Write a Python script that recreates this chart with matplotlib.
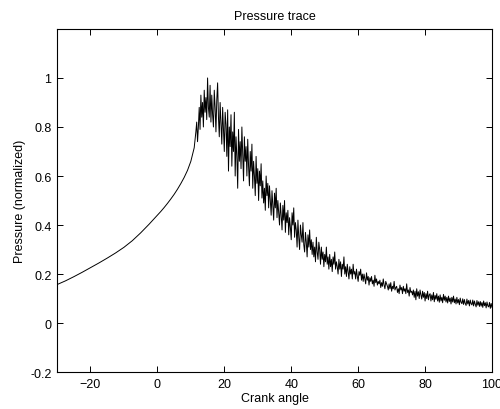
import numpy as np
import matplotlib
matplotlib.use("Agg")
import matplotlib.pyplot as plt

# smooth compression part of the trace
smooth_angle = [-30, -27.5, -25, -22.5, -20, -17.5, -15, -12.5, -10, -7.5, -5, -2.5,
                0, 1, 2, 3, 4, 5, 6, 7, 8, 9, 10, 11]
smooth_p = [0.157, 0.172, 0.189, 0.207, 0.226, 0.245, 0.265, 0.286, 0.309, 0.336, 0.368, 0.403,
            0.44, 0.455, 0.471, 0.488, 0.506, 0.525, 0.546, 0.569, 0.594, 0.623, 0.66, 0.715]

# noisy combustion / expansion part, sampled every 0.25 deg from 11.5 to 100
noisy_first, noisy_last, noisy_step = 11.5, 100.0, 0.25
noisy_p = [
    0.78, 0.82, 0.74, 0.80, 0.88, 0.79, 0.93, 0.84, 0.90, 0.80,
    0.95, 0.86, 0.92, 0.83, 1.00, 0.88, 0.84, 0.97, 0.82, 0.93,
    0.85, 0.80, 0.95, 0.88, 0.78, 0.91, 0.98, 0.84, 0.76, 0.90,
    0.82, 0.73, 0.88, 0.79, 0.70, 0.86, 0.81, 0.68, 0.87, 0.62,
    0.80, 0.72, 0.85, 0.64, 0.78, 0.70, 0.86, 0.60, 0.76, 0.68,
    0.55, 0.79, 0.66, 0.74, 0.63, 0.80, 0.69, 0.58, 0.76, 0.66,
    0.72, 0.60, 0.75, 0.64, 0.56, 0.70, 0.62, 0.73, 0.55, 0.66,
    0.60, 0.52, 0.68, 0.57, 0.63, 0.50, 0.62, 0.56, 0.65, 0.51,
    0.58, 0.49, 0.55, 0.46, 0.60, 0.52, 0.57, 0.47, 0.56, 0.50,
    0.44, 0.54, 0.48, 0.42, 0.53, 0.47, 0.55, 0.43, 0.50, 0.45,
    0.40, 0.49, 0.44, 0.38, 0.48, 0.42, 0.50, 0.37, 0.45, 0.41,
    0.46, 0.36, 0.43, 0.39, 0.34, 0.45, 0.40, 0.47, 0.35, 0.41,
    0.38, 0.31, 0.42, 0.35, 0.30, 0.40, 0.36, 0.33, 0.41, 0.32,
    0.29, 0.37, 0.33, 0.27, 0.36, 0.31, 0.38, 0.30, 0.34, 0.28,
    0.33, 0.27, 0.31, 0.25, 0.35, 0.29, 0.26, 0.33, 0.30, 0.24,
    0.31, 0.26, 0.29, 0.23, 0.28, 0.25, 0.31, 0.24, 0.27, 0.22,
    0.28, 0.23, 0.26, 0.21, 0.27, 0.24, 0.29, 0.22, 0.25, 0.23,
    0.20, 0.26, 0.22, 0.25, 0.19, 0.24, 0.22, 0.27, 0.20, 0.23,
    0.19, 0.24, 0.21, 0.18, 0.23, 0.20, 0.22, 0.18, 0.24, 0.20,
    0.21, 0.18, 0.22, 0.19, 0.17, 0.21, 0.195, 0.22, 0.175, 0.20,
    0.17, 0.20, 0.18, 0.16, 0.205, 0.175, 0.19, 0.155, 0.185, 0.17,
    0.19, 0.16, 0.175, 0.15, 0.195, 0.165, 0.18, 0.155, 0.17, 0.16,
    0.175, 0.145, 0.165, 0.15, 0.18, 0.155, 0.14, 0.17, 0.16, 0.15,
    0.135, 0.16, 0.14, 0.165, 0.13, 0.15, 0.14, 0.17, 0.135, 0.145,
    0.15, 0.125, 0.14, 0.12, 0.155, 0.135, 0.145, 0.12, 0.15, 0.13,
    0.14, 0.12, 0.16, 0.125, 0.135, 0.11, 0.145, 0.125, 0.13, 0.115,
    0.135, 0.105, 0.13, 0.095, 0.14, 0.11, 0.128, 0.10, 0.135, 0.115,
    0.098, 0.13, 0.105, 0.125, 0.09, 0.12, 0.10, 0.13, 0.095, 0.115,
    0.12, 0.09, 0.115, 0.095, 0.125, 0.087, 0.113, 0.097, 0.12, 0.09,
    0.11, 0.085, 0.115, 0.09, 0.105, 0.083, 0.117, 0.093, 0.11, 0.086,
    0.105, 0.082, 0.11, 0.088, 0.102, 0.078, 0.105, 0.086, 0.11, 0.083,
    0.098, 0.078, 0.105, 0.082, 0.096, 0.075, 0.102, 0.085, 0.079, 0.099,
    0.076, 0.096, 0.08, 0.072, 0.098, 0.078, 0.092, 0.07, 0.094, 0.079,
    0.074, 0.094, 0.07, 0.09, 0.077, 0.066, 0.092, 0.073, 0.087, 0.068,
    0.088, 0.069, 0.084, 0.064, 0.09, 0.071, 0.083, 0.062, 0.086, 0.07,
    0.066, 0.084, 0.06, 0.08, 0.064]

noisy_angle = np.arange(noisy_first, noisy_last + noisy_step / 2, noisy_step)
angle = np.concatenate([smooth_angle, noisy_angle])
pressure = np.concatenate([smooth_p, noisy_p])

plt.rcParams['font.family'] = ['Liberation Sans', 'DejaVu Sans']

fig = plt.figure(figsize=(5, 4.1), dpi=100)
ax = fig.add_axes([0.114, 0.09, 0.87, 0.837])
ax.plot(angle, pressure, color='black', linewidth=0.7)

ax.set_xlim(-30, 100)
ax.set_ylim(-0.2, 1.2)
ax.set_xticks([-20, 0, 20, 40, 60, 80, 100])
ax.set_yticks([-0.2, 0, 0.2, 0.4, 0.6, 0.8, 1])
ax.set_yticklabels(['-0.2', '0', '0.2', '0.4', '0.6', '0.8', '1'])
ax.tick_params(direction='in', top=True, right=True, length=4, width=0.7,
               labelsize=9, pad=4)
for s in ax.spines.values():
    s.set_linewidth(0.8)

ax.set_title('Pressure trace', fontsize=9, pad=7)
ax.set_xlabel('Crank angle', fontsize=9, labelpad=2)
ax.set_ylabel('Pressure (normalized)', fontsize=9, labelpad=3)

fig.savefig('out.png', dpi=100)
